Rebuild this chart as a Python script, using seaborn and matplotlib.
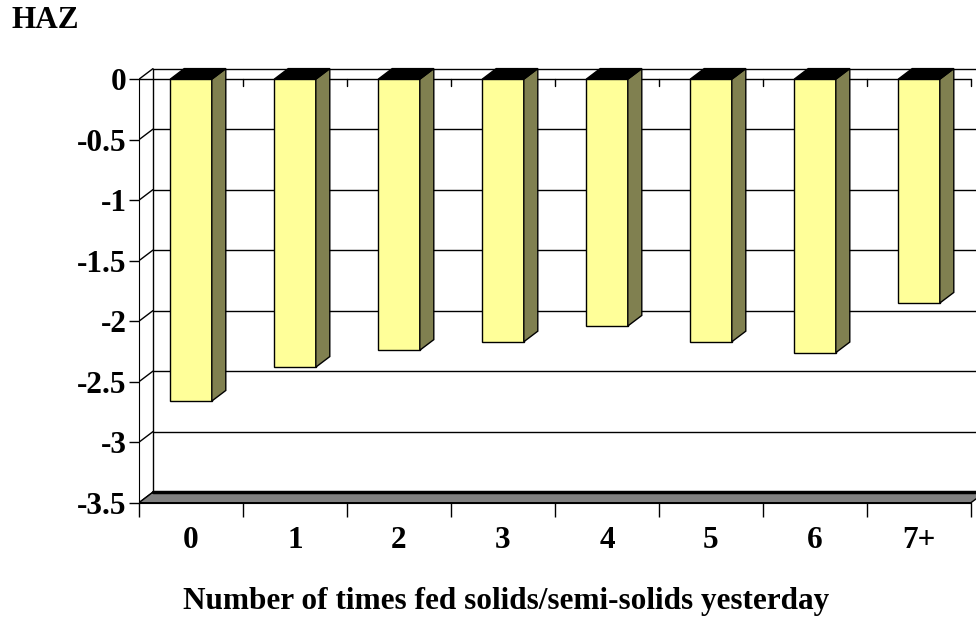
import matplotlib
matplotlib.use("Agg")
import matplotlib.pyplot as plt
from matplotlib.patches import Polygon
import seaborn as sns
import pandas as pd

# chart values
categories = ["0", "1", "2", "3", "4", "5", "6", "7+"]
haz = [-2.66, -2.38, -2.24, -2.17, -2.04, -2.17, -2.26, -1.85]
yticks = [0, -0.5, -1, -1.5, -2, -2.5, -3, -3.5]
ytick_labels = ["0", "-0.5", "-1", "-1.5", "-2", "-2.5", "-3", "-3.5"]

df = pd.DataFrame({"times": categories, "haz": haz})

sns.set_style("white")
plt.rcParams["font.family"] = ["Liberation Serif", "DejaVu Serif"]
plt.rcParams["font.weight"] = "bold"
plt.rcParams["text.color"] = "black"
plt.rcParams["xtick.color"] = "black"
plt.rcParams["ytick.color"] = "black"

FS = 22.5
face = "#FFFF99"
side = "#808050"

# 3d depth offset in data units
dx = 14 / 104
dy = 10.6 / 121
ymin = -3.5
xmax = len(categories) - 0.5

fig = plt.figure(figsize=(9.76, 6.2), dpi=100)
W, H = 976, 620
left_px, right_px = 139, 139 + (len(categories) + dx) * 104
top_px, bot_px = 60, 502.7
ax = fig.add_axes([left_px / W, 1 - bot_px / H, (right_px - left_px) / W, (bot_px - top_px) / H])

# back wall, left wall and gridlines
wall_x = -0.5 + dx
for v in yticks:
    ax.plot([-0.5, wall_x], [v, v + dy], color="black", lw=1.0, zorder=1)
    if v != ymin:
        ax.plot([wall_x, xmax + dx], [v + dy, v + dy], color="black", lw=1.0, zorder=1)
ax.plot([wall_x, wall_x], [ymin + dy, dy], color="black", lw=1.0, zorder=1)

# floor
floor = Polygon([(-0.5, ymin), (wall_x, ymin + dy), (xmax + dx, ymin + dy), (xmax, ymin)],
                closed=True, facecolor="#808080", edgecolor="black", lw=1.0, zorder=1)
ax.add_patch(floor)
ax.plot([wall_x, xmax + dx], [ymin + dy, ymin + dy], color="black", lw=2.5, zorder=2)

# front zero line with inner ticks
ax.plot([-0.5, xmax], [0, 0], color="black", lw=1.0, zorder=1)
for b in range(1, len(categories) + 1):
    ax.plot([b - 0.5, b - 0.5], [0, -0.06], color="black", lw=1.0, zorder=1)

# front faces
sns.barplot(data=df, x="times", y="haz", color=face, width=0.4, saturation=1,
            edgecolor="black", linewidth=1.0, ax=ax, zorder=3)

# side and top faces
for bar in list(ax.containers[0]):
    x0 = bar.get_x()
    x1 = x0 + bar.get_width()
    v = bar.get_y() + bar.get_height()
    ax.add_patch(Polygon([(x1, 0), (x1 + dx, dy), (x1 + dx, v + dy), (x1, v)],
                         closed=True, facecolor=side, edgecolor="black", lw=1.0, zorder=3))
    ax.add_patch(Polygon([(x0, 0), (x0 + dx, dy), (x1 + dx, dy), (x1, 0)],
                         closed=True, facecolor="black", edgecolor="black", lw=1.0, zorder=3))

ax.set_xlim(-0.5, xmax + dx)
ax.set_ylim(ymin, (bot_px - top_px) / 121 + ymin)

ax.set_yticks(yticks)
ax.set_yticklabels(ytick_labels, fontsize=FS, fontweight="bold")
ax.tick_params(axis="y", direction="out", length=7, width=1, color="black", pad=2, left=True)

ax.set_xticks(range(len(categories)))
ax.set_xticklabels(categories, fontsize=FS, fontweight="bold")
ax.set_xticks([b - 0.5 for b in range(len(categories) + 1)], minor=True)
ax.tick_params(axis="x", which="major", length=0, pad=17)
ax.tick_params(axis="x", which="minor", direction="out", length=10, width=1, color="black", bottom=True)
ax.set_xlabel("")
ax.set_ylabel("")

for s in ["top", "right"]:
    ax.spines[s].set_visible(False)
ax.spines["left"].set_bounds(ymin, 0)
ax.spines["left"].set_color("black")
ax.spines["bottom"].set_bounds(-0.5, xmax)
ax.spines["bottom"].set_color("black")
ax.patch.set_alpha(0)

fig.text(11 / W, 1 - 20 / H, "HAZ", fontsize=FS, fontweight="bold", ha="left", va="center")
fig.text(506 / W, 1 - 602 / H, "Number of times fed solids/semi-solids yesterday",
         fontsize=FS, fontweight="bold", ha="center", va="center")

fig.savefig("out.png", dpi=100, facecolor="white")
